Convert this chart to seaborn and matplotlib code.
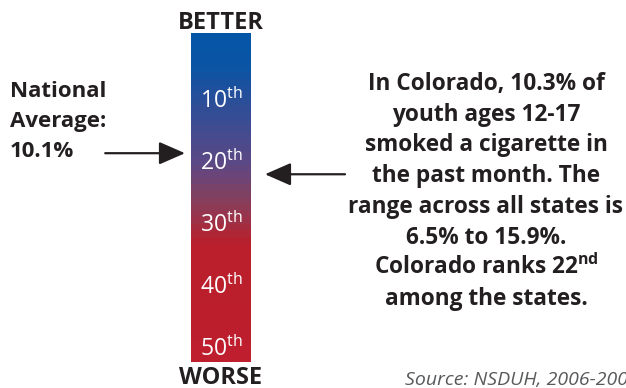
import numpy as np
import pandas as pd
import seaborn as sns
import matplotlib.pyplot as plt
from matplotlib.colors import LinearSegmentedColormap

sns.set_theme(style="white")
plt.rcParams["font.family"] = ["Open Sans", "DejaVu Sans"]
plt.rcParams["mathtext.fontset"] = "custom"
plt.rcParams["mathtext.rm"] = "Open Sans"
plt.rcParams["mathtext.bf"] = "Open Sans:bold"

# ---- data ----
ranks = list(range(1, 51))            # state rank, 1 = better
tick_ranks = [10, 20, 30, 40, 50]
national_avg = 10.1
national_rank = 18.6                  # where the national arrow points on the scale
colorado_rate = 10.3
colorado_rank = 22
state_low, state_high = 6.5, 15.9

W, H = 626, 388
def fx(x):
    return x / W
def fy(y):
    return 1 - y / H

ink = "#231f20"

fig = plt.figure(figsize=(W / 100, H / 100), dpi=100, facecolor="w")

# gradient bar
ax = fig.add_axes([fx(191), fy(362), 60 / W, 329 / H])
cmap = LinearSegmentedColormap.from_list("better_worse", [
    (0.0, "#0555a6"), (0.1, "#0b54a4"), (0.2, "#2a4e98"), (0.39, "#5b4886"),
    (0.5, "#83405f"), (0.58, "#a02f44"), (0.64, "#ba1f2b"), (1.0, "#be1e2d")])
rank_df = pd.DataFrame({"rank": ranks})
sns.heatmap(rank_df, ax=ax, cmap=cmap, vmin=1, vmax=50, cbar=False,
            xticklabels=False, yticklabels=False, linewidths=0)

# rank scale overlay for labels and arrows
sc = fig.add_axes(ax.get_position(), frameon=False)
sc.set_xlim(0, 1)
sc.set_ylim(52.3, -0.8)
sc.axis("off")

for r in tick_ranks:
    sc.annotate(f"{r}$^{{\\mathrm{{th}}}}$", xy=(0.5, r), xytext=(0, -6.1),
                textcoords="offset points", ha="center", va="baseline",
                color="w", fontsize=16.5)

arrow = dict(arrowstyle="-|>,head_length=0.8,head_width=0.35", color=ink,
             lw=1.6, shrinkA=0, shrinkB=0, mutation_scale=20)
sc.annotate("", xy=(-0.1, national_rank), xytext=(-1.43, national_rank),
            arrowprops=arrow, annotation_clip=False)
sc.annotate("", xy=(1.233, colorado_rank), xytext=(2.567, colorado_rank),
            arrowprops=arrow, annotation_clip=False)

# BETTER / WORSE
fig.text(fx(221), fy(29), "BETTER", ha="center", va="baseline",
         fontsize=17, fontweight="bold", color=ink)
fig.text(fx(221), fy(384), "WORSE", ha="center", va="baseline",
         fontsize=17, fontweight="bold", color=ink)

# national average block
for i, line in enumerate(["National", "Average:", f"{national_avg}%"]):
    fig.text(fx(10), fy(97 + i * 30), line, ha="left", va="baseline",
             fontsize=16, fontweight="bold", color=ink)

# Colorado block
right_lines = [
    f"In Colorado, {colorado_rate}% of",
    "youth ages 12-17",
    "smoked a cigarette in",
    "the past month. The",
    "range across all states is",
    f"{state_low}% to {state_high}%.",
    f"Colorado ranks {colorado_rank}$^{{\\mathbf{{nd}}}}$",
    "among the states.",
]
for i, line in enumerate(right_lines):
    fig.text(fx(486), fy(90 + i * 30.7), line, ha="center", va="baseline",
             fontsize=16.3, fontweight="bold", color=ink)

fig.text(fx(405), fy(385), "Source: NSDUH, 2006-2007", ha="left", va="baseline",
         fontsize=14, style="italic", color="#58595b")

fig.savefig("out.png", dpi=100, facecolor="w")
